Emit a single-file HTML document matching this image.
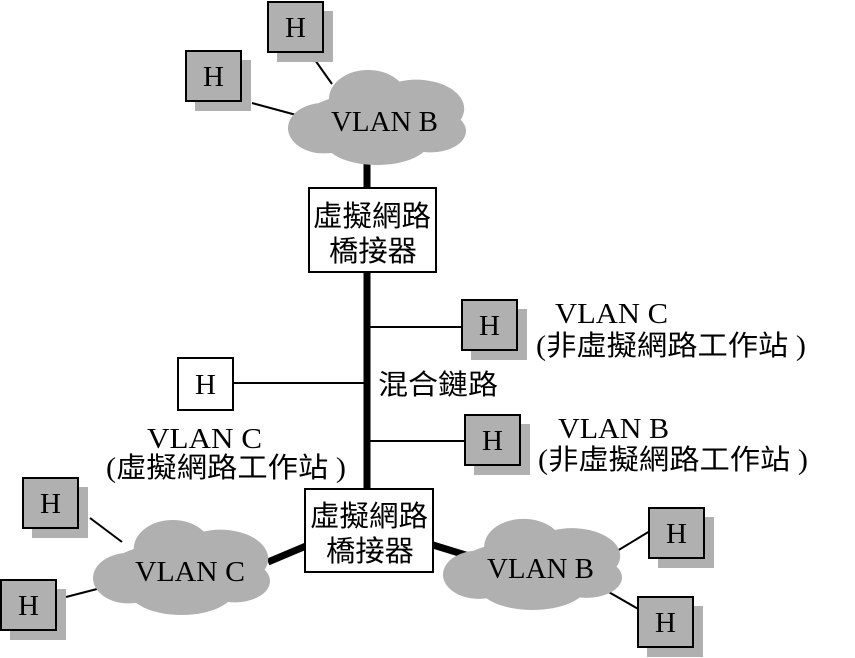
<!DOCTYPE html>
<html><head><meta charset="utf-8"><style>
html,body{margin:0;padding:0;background:#fff;}
svg{display:block;}
.s{font-family:"Liberation Serif",serif;fill:#000;}
.c{font-family:"Liberation Serif","Noto Sans CJK TC",sans-serif;fill:#000;}
</style></head><body>
<svg width="855" height="658" viewBox="0 0 855 658" xmlns="http://www.w3.org/2000/svg">
<defs>
<g id="cl" fill="#b0b0b0">
<ellipse cx="50" cy="55" rx="42" ry="30"/>
<ellipse cx="45" cy="32" rx="22" ry="30"/>
<ellipse cx="72" cy="42" rx="27" ry="30"/>
<ellipse cx="20" cy="62" rx="20" ry="26"/>
<ellipse cx="50" cy="74" rx="30" ry="26"/>
<ellipse cx="80" cy="65" rx="20" ry="22"/>
</g>
<g id="hb">
<rect x="10" y="10" width="56" height="51" fill="#b0b0b0"/>
<rect x="1" y="1" width="55" height="50" fill="#b0b0b0" stroke="#000" stroke-width="2"/>
<text x="28.5" y="36" text-anchor="middle" class="s" font-size="29">H</text>
</g>
</defs>
<g stroke="#000" stroke-width="2">
<line x1="315" y1="60" x2="332" y2="84"/>
<line x1="252" y1="103" x2="300" y2="116"/>
<line x1="370" y1="327" x2="462" y2="327"/>
<line x1="233" y1="383" x2="367" y2="383"/>
<line x1="370" y1="441" x2="465" y2="441"/>
<line x1="90" y1="518" x2="122" y2="542"/>
<line x1="66" y1="597" x2="97" y2="589"/>
<line x1="617" y1="551" x2="650" y2="531"/>
<line x1="600" y1="587" x2="640" y2="610"/>
</g>
<line x1="367" y1="160" x2="367" y2="490" stroke="#000" stroke-width="7"/>
<line x1="268" y1="562" x2="306" y2="546" stroke="#000" stroke-width="7"/>
<line x1="433" y1="545" x2="472" y2="557" stroke="#000" stroke-width="7"/>
<use href="#cl" transform="translate(288,68) scale(1.78,0.97)"/>
<use href="#cl" transform="translate(93,518) scale(1.77,0.97)"/>
<use href="#cl" transform="translate(443,517) scale(1.79,0.93)"/>
<text x="331" y="131" class="s" font-size="28" textLength="107" lengthAdjust="spacingAndGlyphs">VLAN B</text>
<text x="135" y="581" class="s" font-size="28" textLength="110" lengthAdjust="spacingAndGlyphs">VLAN C</text>
<text x="487" y="578" class="s" font-size="28" textLength="107" lengthAdjust="spacingAndGlyphs">VLAN B</text>
<use href="#hb" x="267" y="1"/>
<use href="#hb" x="185" y="50"/>
<use href="#hb" x="461" y="299"/>
<use href="#hb" x="464" y="414"/>
<use href="#hb" x="22" y="477"/>
<use href="#hb" x="0" y="579"/>
<use href="#hb" x="648" y="507"/>
<use href="#hb" x="637" y="596"/>
<rect x="178" y="358" width="55" height="52" fill="#fff" stroke="#000" stroke-width="2"/>
<text x="205.5" y="394" text-anchor="middle" class="s" font-size="29">H</text>
<rect x="309" y="188" width="127" height="84" fill="#fff" stroke="#000" stroke-width="2"/>
<text x="313" y="226" class="c" font-size="29" textLength="118" lengthAdjust="spacingAndGlyphs">虛擬網路</text>
<text x="329" y="261" class="c" font-size="29" textLength="88" lengthAdjust="spacingAndGlyphs">橋接器</text>
<rect x="305" y="489" width="128" height="83" fill="#fff" stroke="#000" stroke-width="2"/>
<text x="310" y="526" class="c" font-size="29" textLength="118" lengthAdjust="spacingAndGlyphs">虛擬網路</text>
<text x="326" y="561" class="c" font-size="29" textLength="88" lengthAdjust="spacingAndGlyphs">橋接器</text>
<text x="378" y="394" class="c" font-size="28" textLength="120" lengthAdjust="spacingAndGlyphs">混合鏈路</text>
<text x="555" y="323" class="s" font-size="28" textLength="113" lengthAdjust="spacingAndGlyphs">VLAN C</text>
<text x="536" y="355" class="c" font-size="28" textLength="270" lengthAdjust="spacingAndGlyphs">(非虛擬網路工作站 )</text>
<text x="558" y="438" class="s" font-size="28" textLength="111" lengthAdjust="spacingAndGlyphs">VLAN B</text>
<text x="538" y="469" class="c" font-size="28" textLength="270" lengthAdjust="spacingAndGlyphs">(非虛擬網路工作站 )</text>
<text x="147" y="448" class="s" font-size="28" textLength="115" lengthAdjust="spacingAndGlyphs">VLAN C</text>
<text x="106" y="477" class="c" font-size="28" textLength="240" lengthAdjust="spacingAndGlyphs">(虛擬網路工作站 )</text>
</svg>
</body></html>
